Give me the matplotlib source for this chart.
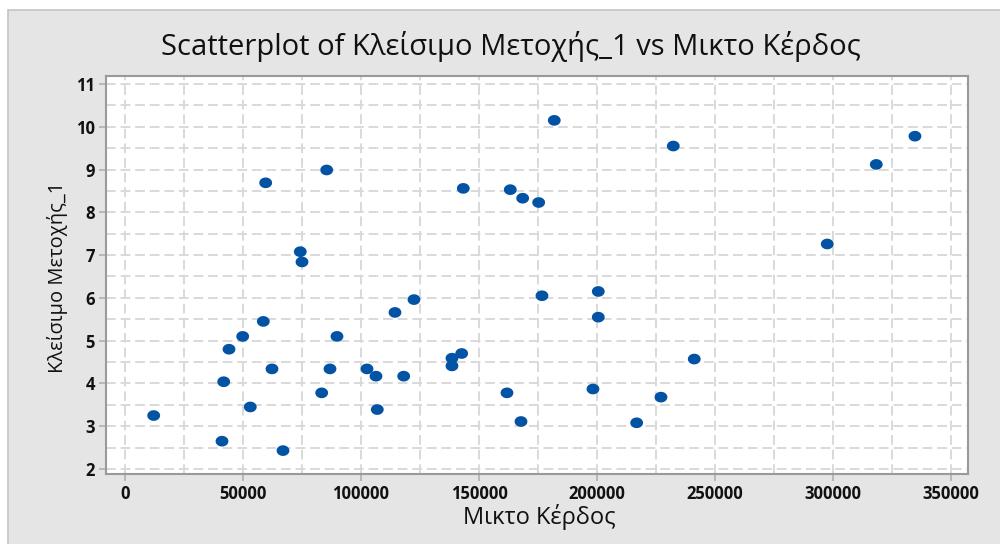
import matplotlib
matplotlib.use("Agg")
import matplotlib.pyplot as plt
import numpy as np
from matplotlib.patches import Rectangle
from matplotlib.path import Path
from matplotlib.ticker import MultipleLocator

# Data
mikto_kerdos = [12160, 41100, 41820, 44070, 49870, 53090, 58600, 59610, 62280, 66950,
                74270, 75000, 83340, 85460, 86860, 89820, 102540, 106350, 106900, 114400,
                118090, 122450, 138550, 138550, 142660, 143340, 161850, 163250, 167790, 168500,
                175280, 176680, 181890, 198290, 200540, 200540, 216800, 227100, 232320, 241210,
                297560, 318330, 334720]
kleisimo = [3.25, 2.65, 4.04, 4.80, 5.10, 3.45, 5.45, 8.69, 4.34, 2.43,
            7.08, 6.84, 3.78, 8.99, 4.34, 5.10, 4.34, 4.17, 3.39, 5.66,
            4.17, 5.96, 4.59, 4.41, 4.70, 8.56, 3.78, 8.53, 3.11, 8.33,
            8.23, 6.05, 10.15, 3.87, 6.15, 5.55, 3.08, 3.68, 9.55, 4.57,
            7.26, 9.12, 9.78]

title = "Scatterplot of Κλείσιμο Μετοχής_1 vs Μικτο Κέρδος"
xlabel = "Μικτο Κέρδος"
ylabel = "Κλείσιμο Μετοχής_1"
xticks = [0, 50000, 100000, 150000, 200000, 250000, 300000, 350000]
yticks = [2, 3, 4, 5, 6, 7, 8, 9, 10, 11]

plt.rcParams['font.family'] = ['Open Sans', 'DejaVu Sans']

fig = plt.figure(figsize=(10, 5.44), dpi=100, facecolor='white')
bg = Rectangle((8/1000, -0.01), 1.0, 1 - 10/544 + 0.01, transform=fig.transFigure,
               facecolor='#e5e5e5', edgecolor='#c4c4c4', linewidth=1.2, zorder=-5)
fig.patches.append(bg)

ax = fig.add_axes([106/1000, 1 - 474/544, (968 - 106)/1000, (474 - 76)/544])
ax.set_zorder(2)
ax.set_facecolor('white')

# slightly wide elliptical dot, as in the reference
t = np.linspace(0, 2*np.pi, 60)
ell = Path(np.column_stack([1.2*np.cos(t), np.sin(t)]), closed=True)

ax.scatter(mikto_kerdos, kleisimo, s=85, marker=ell, color='#0353a4', edgecolors='none', zorder=3)

ax.set_xlim(-8050, 357200)
ax.set_ylim(1.883, 11.187)
ax.set_xticks(xticks)
ax.set_xticklabels([str(v) for v in xticks])
ax.set_yticks(yticks)
ax.set_yticklabels([str(v) for v in yticks])
ax.xaxis.set_minor_locator(MultipleLocator(25000))
ax.yaxis.set_minor_locator(MultipleLocator(0.5))

ax.grid(True, which='both', color='#d9d9d9', linestyle=(0, (5, 2.5)), linewidth=1.4, zorder=1)
ax.set_axisbelow(True)

for side in ['left', 'bottom', 'right', 'top']:
    ax.spines[side].set_color('#9a9a9a')
    ax.spines[side].set_linewidth(1.5)

ax.tick_params(which='major', direction='out', length=5, width=1.2, color='#b0b0b0',
               labelsize=12, labelcolor='#111111', pad=3)
ax.tick_params(which='minor', length=0)
for lab in ax.get_xticklabels() + ax.get_yticklabels():
    lab.set_fontweight('bold')

fig.text(0.511, 1 - 46/544, title, ha='center', va='center', fontsize=21, color='#111111')
fig.text(0.539, 1 - 517/544, xlabel, ha='center', va='center', fontsize=17, color='#111111')
fig.text(0.058, 1 - 277/544, ylabel, ha='center', va='center', rotation=90, fontsize=14.5,
         color='#111111')

fig.savefig('out.png', dpi=100, facecolor=fig.get_facecolor())
